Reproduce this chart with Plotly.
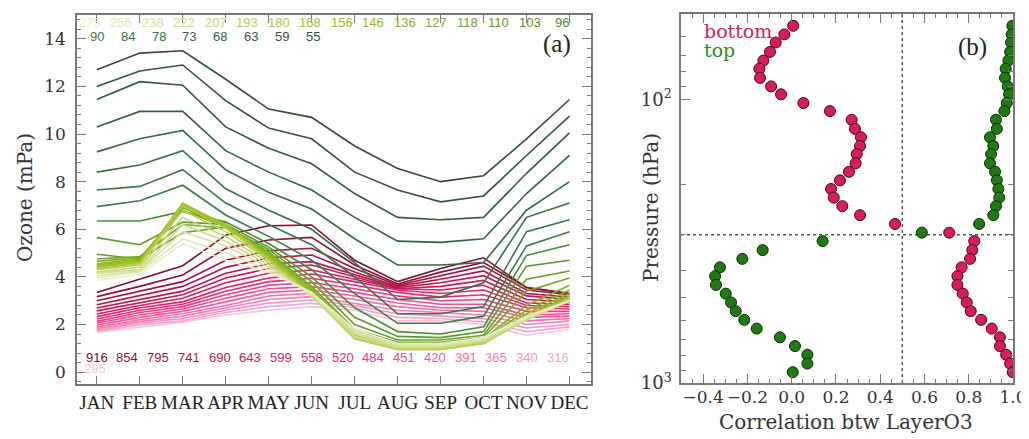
import plotly.graph_objects as go

# ---------------- data ----------------
MONTHS = ["JAN", "FEB", "MAR", "APR", "MAY", "JUN", "JUL", "AUG", "SEP", "OCT", "NOV", "DEC"]

GREEN_LEVELS = [55, 59, 63, 68, 73, 78, 84, 90, 96, 103, 110, 118, 127, 136, 146, 156,
                168, 180, 193, 207, 222, 238, 256, 275]
PINK_LEVELS = [295, 316, 340, 365, 391, 420, 451, 484, 520, 558, 599, 643, 690, 741, 795, 854, 916]

# monthly ozone partial pressure (mPa) per pressure level (hPa)
O3_055 = [12.7, 13.4, 13.5, 12.3, 11.05, 10.7, 9.5, 8.55, 8.0, 8.25, 9.8, 11.45]
O3_059 = [12.0, 12.65, 12.9, 11.4, 10.25, 9.8, 8.4, 7.65, 7.15, 7.4, 9.1, 10.75]
O3_063 = [11.45, 12.2, 12.05, 10.3, 9.4, 8.75, 7.5, 6.5, 6.4, 6.5, 8.35, 10.05]
O3_068 = [10.3, 10.95, 10.95, 9.3, 8.4, 7.65, 6.5, 5.5, 5.45, 5.6, 7.5, 9.1]
O3_073 = [9.25, 9.8, 10.15, 8.5, 7.55, 6.85, 5.6, 4.5, 4.5, 4.6, 6.8, 8.0]
O3_078 = [8.4, 8.7, 9.3, 7.7, 6.8, 6.0, 4.6, 3.05, 3.15, 3.75, 6.5, 7.1]
O3_084 = [7.65, 7.8, 8.5, 7.1, 6.2, 5.35, 4.0, 2.45, 2.45, 2.75, 5.9, 6.4]
O3_090 = [6.95, 7.2, 7.85, 6.6, 5.7, 4.7, 3.3, 2.05, 2.05, 2.35, 5.3, 5.9]
O3_096 = [6.35, 6.35, 6.75, 6.3, 5.4, 4.3, 2.7, 1.7, 1.6, 1.9, 4.9, 5.35]
O3_103 = [5.65, 5.35, 6.3, 6.2, 5.25, 4.0, 2.3, 1.5, 1.45, 1.7, 4.45, 4.7]
O3_110 = [4.95, 4.75, 5.85, 6.1, 5.15, 3.8, 2.0, 1.35, 1.35, 1.55, 3.9, 4.25]
O3_118 = [4.75, 4.85, 6.2, 6.05, 5.05, 3.6, 1.8, 1.25, 1.25, 1.45, 3.4, 3.95]
O3_127 = [4.65, 4.8, 6.8, 6.1, 5.0, 3.5, 1.7, 1.2, 1.2, 1.4, 2.8, 3.65]
O3_136 = [4.55, 4.75, 6.9, 6.15, 4.95, 3.45, 1.6, 1.15, 1.15, 1.35, 2.6, 3.45]
O3_146 = [4.5, 4.7, 7.0, 6.2, 4.9, 3.4, 1.55, 1.1, 1.1, 1.3, 2.45, 3.3]
O3_156 = [4.45, 4.65, 7.05, 6.2, 4.85, 3.35, 1.5, 1.05, 1.05, 1.25, 2.35, 3.2]
O3_168 = [4.4, 4.6, 7.1, 6.15, 4.8, 3.3, 1.45, 1.0, 1.0, 1.2, 2.3, 3.15]
O3_180 = [4.35, 4.55, 7.0, 6.05, 4.75, 3.25, 1.4, 0.95, 0.95, 1.2, 2.25, 3.1]
O3_193 = [4.3, 4.5, 6.8, 5.9, 4.7, 3.2, 1.4, 0.95, 0.95, 1.2, 2.2, 3.05]
O3_207 = [4.2, 4.4, 6.5, 5.7, 4.6, 3.2, 1.45, 1.0, 1.0, 1.25, 2.2, 3.0]
O3_222 = [4.15, 4.3, 6.2, 5.5, 4.5, 3.2, 1.5, 1.05, 1.05, 1.3, 2.2, 3.0]
O3_238 = [4.05, 4.25, 5.9, 5.3, 4.4, 3.25, 1.6, 1.1, 1.1, 1.35, 2.25, 3.0]
O3_256 = [3.95, 4.2, 5.6, 5.0, 4.3, 3.3, 1.7, 1.15, 1.15, 1.4, 2.3, 3.0]
O3_275 = [3.85, 4.1, 5.4, 4.7, 4.2, 3.35, 1.8, 1.2, 1.2, 1.45, 2.35, 3.0]

O3_295 = [1.68, 1.9, 2.1, 2.4, 2.6, 2.75, 2.6, 2.15, 2.15, 2.0, 1.55, 1.8]
O3_316 = [1.72, 1.98, 2.15, 2.5, 2.75, 2.89, 2.7, 2.3, 2.25, 2.1, 1.7, 1.9]
O3_340 = [1.77, 2.05, 2.25, 2.6, 2.9, 3.03, 2.8, 2.45, 2.35, 2.25, 1.85, 2.0]
O3_365 = [1.82, 2.12, 2.35, 2.7, 3.05, 3.17, 2.9, 2.6, 2.5, 2.4, 2.0, 2.15]
O3_391 = [1.89, 2.2, 2.45, 2.8, 3.2, 3.31, 3.05, 2.75, 2.6, 2.55, 2.15, 2.25]
O3_420 = [1.97, 2.3, 2.55, 2.95, 3.35, 3.45, 3.2, 2.9, 2.7, 2.7, 2.3, 2.35]
O3_451 = [2.05, 2.4, 2.65, 3.1, 3.5, 3.59, 3.35, 3.05, 2.85, 2.85, 2.4, 2.45]
O3_484 = [2.13, 2.5, 2.75, 3.25, 3.65, 3.76, 3.5, 3.2, 3.0, 3.05, 2.55, 2.55]
O3_520 = [2.23, 2.6, 2.85, 3.4, 3.8, 3.94, 3.65, 3.35, 3.15, 3.25, 2.7, 2.65]
O3_558 = [2.33, 2.7, 2.95, 3.55, 3.95, 4.12, 3.8, 3.45, 3.3, 3.45, 2.8, 2.75]
O3_599 = [2.44, 2.8, 3.1, 3.75, 4.15, 4.29, 3.9, 3.5, 3.45, 3.65, 2.9, 2.85]
O3_643 = [2.57, 2.9, 3.25, 3.95, 4.35, 4.5, 4.0, 3.5, 3.6, 3.85, 3.05, 2.95]
O3_690 = [2.69, 3.05, 3.4, 4.15, 4.55, 4.64, 4.1, 3.55, 3.75, 4.05, 3.2, 3.05]
O3_741 = [2.83, 3.2, 3.6, 4.4, 4.8, 4.92, 4.2, 3.6, 3.9, 4.25, 3.3, 3.15]
O3_795 = [3.0, 3.4, 3.8, 4.7, 5.1, 5.2, 4.35, 3.65, 4.05, 4.45, 3.45, 3.25]
O3_854 = [3.17, 3.6, 4.08, 5.2, 5.55, 5.66, 4.5, 3.7, 4.2, 4.6, 3.55, 3.3]
O3_916 = [3.34, 3.9, 4.47, 5.75, 6.15, 6.18, 4.7, 3.8, 4.35, 4.8, 3.55, 3.3]

GREEN_SERIES = [O3_055, O3_059, O3_063, O3_068, O3_073, O3_078, O3_084, O3_090,
                O3_096, O3_103, O3_110, O3_118, O3_127, O3_136, O3_146, O3_156,
                O3_168, O3_180, O3_193, O3_207, O3_222, O3_238, O3_256, O3_275]
PINK_SERIES = [O3_295, O3_316, O3_340, O3_365, O3_391, O3_420, O3_451, O3_484, O3_520,
               O3_558, O3_599, O3_643, O3_690, O3_741, O3_795, O3_854, O3_916]

GREEN_COLORS = ["#2e4e33", "#30553a", "#325c3c", "#33633e", "#356a40", "#367042", "#387744", "#3a7e45",
                "#4a8a35", "#58962c", "#64a026", "#70a822", "#7cb01e", "#86b61c", "#90bb1e", "#9abf22",
                "#a4c42a", "#aec93c", "#bacf56", "#c4d56f", "#cedb88", "#d8e2a0", "#e1e8b6", "#eaefca"]
PINK_COLORS = ["#fac2de", "#f8a6cf", "#f792c3", "#f580b7", "#f46eab", "#f25c9f", "#f04c93", "#ec3c86",
               "#e62e78", "#de256b", "#d41f61", "#c81a57", "#bc184f", "#ae1647", "#9e143f", "#8c1237",
               "#7a1030"]

# panel (b): correlation of each layer with bottom / top layer ozone
LEVELS = GREEN_LEVELS + PINK_LEVELS
CORR_BOTTOM = [0.007, -0.033, -0.072, -0.098, -0.128, -0.146, -0.143, -0.093, -0.048, 0.053,
               0.173, 0.271, 0.286, 0.313, 0.309, 0.294, 0.289, 0.259, 0.218, 0.178,
               0.19, 0.229, 0.309, 0.467, 0.712, 0.825, 0.816, 0.806, 0.768, 0.749,
               0.749, 0.773, 0.791, 0.809, 0.856, 0.904, 0.941, 0.941, 0.969, 0.987, 0.999]
CORR_TOP = [0.997, 0.994, 0.991, 0.987, 0.979, 0.967, 0.964, 0.976, 0.982, 0.972,
            0.961, 0.923, 0.927, 0.896, 0.911, 0.901, 0.896, 0.919, 0.927, 0.934,
            0.938, 0.923, 0.911, 0.847, 0.588, 0.140, -0.131, -0.223, -0.324, -0.346,
            -0.342, -0.298, -0.274, -0.253, -0.214, -0.158, -0.053, 0.015, 0.071, 0.071, 0.005]
CORR_THRESHOLD = 0.5
PRESSURE_THRESHOLD = 300

# ---------------- figure ----------------
# page is shown with the default 8 px body margin, so the figure itself is 8 px smaller
OFF = 8
W, H = 1029 - OFF, 439 - OFF
def px(x):
    return (x - OFF) / W
def py(y):
    return 1 - (y - OFF) / H

fig = go.Figure()
months_idx = list(range(len(MONTHS)))

for vals, col in zip(PINK_SERIES, PINK_COLORS):
    fig.add_trace(go.Scatter(x=months_idx, y=vals, mode="lines", line=dict(color=col, width=1.6),
                             xaxis="x", yaxis="y", showlegend=False, hoverinfo="skip"))
for vals, col in zip(GREEN_SERIES, GREEN_COLORS):
    fig.add_trace(go.Scatter(x=months_idx, y=vals, mode="lines", line=dict(color=col, width=1.6),
                             xaxis="x", yaxis="y", showlegend=False, hoverinfo="skip"))

# reference lines panel b
fig.add_trace(go.Scatter(x=[-0.5, 1.0], y=[PRESSURE_THRESHOLD, PRESSURE_THRESHOLD], mode="lines",
                         line=dict(color="#555", width=1.5, dash="dot"), xaxis="x2", yaxis="y2",
                         showlegend=False, hoverinfo="skip"))
fig.add_trace(go.Scatter(x=[CORR_THRESHOLD, CORR_THRESHOLD], y=[50, 1000], mode="lines",
                         line=dict(color="#555", width=1.5, dash="dot"), xaxis="x2", yaxis="y2",
                         showlegend=False, hoverinfo="skip"))

fig.add_trace(go.Scatter(x=CORR_BOTTOM, y=LEVELS, mode="markers", name="bottom",
                         marker=dict(size=11, color="#dc1a5c", line=dict(color="#3a0a18", width=1)),
                         xaxis="x2", yaxis="y2", showlegend=False))
fig.add_trace(go.Scatter(x=CORR_TOP, y=LEVELS, mode="markers", name="top",
                         marker=dict(size=11, color="#1f7a12", line=dict(color="#0c2a06", width=1)),
                         xaxis="x2", yaxis="y2", showlegend=False))

AX = dict(showline=True, linecolor="#777", linewidth=1.5, mirror="ticks", ticks="inside",
          tickcolor="#777", showgrid=False, zeroline=False, automargin=False, tickangle=0)
TICKFONT = dict(family="DejaVu Serif", size=17, color="#333")

fig.update_layout(
    width=W, height=H, autosize=False,
    margin=dict(l=0, r=0, t=0, b=0),
    paper_bgcolor="white", plot_bgcolor="white",
    xaxis=dict(domain=[px(77), px(591)], range=[-0.46, 11.5], tickvals=months_idx, ticktext=MONTHS,
               ticklen=8, tickfont=dict(family="Liberation Serif", size=19, color="#222"),
               ticklabelstandoff=0, anchor="y", **AX),
    yaxis=dict(domain=[py(384), py(15)], range=[-0.5, 15], tickvals=list(range(0, 15, 2)),
               ticklen=9, tickfont=TICKFONT, ticklabelstandoff=6, anchor="x",
               minor=dict(dtick=0.4, tick0=0, ticklen=4, ticks="inside", tickcolor="#777"), **AX),
    xaxis2=dict(domain=[px(681), px(1013)], range=[-0.5, 1.0], dtick=0.2, tick0=0, ticklen=9,
                tickformat=".1f", tickfont=dict(family="DejaVu Serif", size=17, color="#333"),
                ticklabelstandoff=-2, anchor="y2",
                minor=dict(dtick=0.05, tick0=0, ticklen=4, ticks="inside", tickcolor="#777"), **AX),
    yaxis2=dict(domain=[py(383), py(14)], type="log", range=[3.0, 1.69897], tickvals=[100, 1000],
                ticktext=["10<sup>2</sup>", "10<sup>3</sup>"], ticklen=9,
                tickfont=dict(family="DejaVu Serif", size=18, color="#333"), ticklabelstandoff=4,
                anchor="x2",
                minor=dict(tickvals=[60, 70, 80, 90, 200, 300, 400, 500, 600, 700, 800, 900],
                           ticklen=5, ticks="inside", tickcolor="#777"), **AX),
)

ann = []
def label(text, x, y, color, size=13, family="Liberation Sans", xanchor="center", **kw):
    ann.append(dict(text=text, x=px(x), y=py(y), xref="paper", yref="paper", showarrow=False,
                    xanchor=xanchor, yanchor="middle",
                    font=dict(family=family, size=size, color=color), **kw))

level_color = dict(zip(GREEN_LEVELS, GREEN_COLORS))
level_color.update(zip(PINK_LEVELS, PINK_COLORS))

row1 = GREEN_LEVELS[8:][::-1]
row2 = GREEN_LEVELS[:8][::-1]
row3 = PINK_LEVELS[1:][::-1]
for i, lv in enumerate(row1):
    label(str(lv), 90 + 31.45 * i, 22.7, level_color[lv])
for i, lv in enumerate(row2):
    label(str(lv), 96.7 + 30.9 * i, 36.7, level_color[lv])
for i, lv in enumerate(row3):
    label(str(lv), 96.7 + 30.75 * i, 357.3, level_color[lv])
label(str(PINK_LEVELS[0]), 95, 368.3, level_color[PINK_LEVELS[0]])

label("(a)", 557, 44, "#222", size=25, family="Liberation Serif")
label("(b)", 972, 47, "#222", size=25, family="Liberation Serif")
label("Ozone (mPa)", 25, 198, "#333", size=20, family="DejaVu Serif", textangle=-90)
label("Pressure (hPa)", 651, 208, "#333", size=20, family="DejaVu Serif", textangle=-90)
label("Correlation btw LayerO3", 846, 422, "#333", size=20, family="DejaVu Serif")
label("bottom", 702, 31, "#d81a5a", size=19, family="DejaVu Serif", xanchor="left")
label("top", 702, 50, "#2e8a1a", size=19, family="DejaVu Serif", xanchor="left")

fig.update_layout(annotations=ann)
fig.write_html("out.html")
